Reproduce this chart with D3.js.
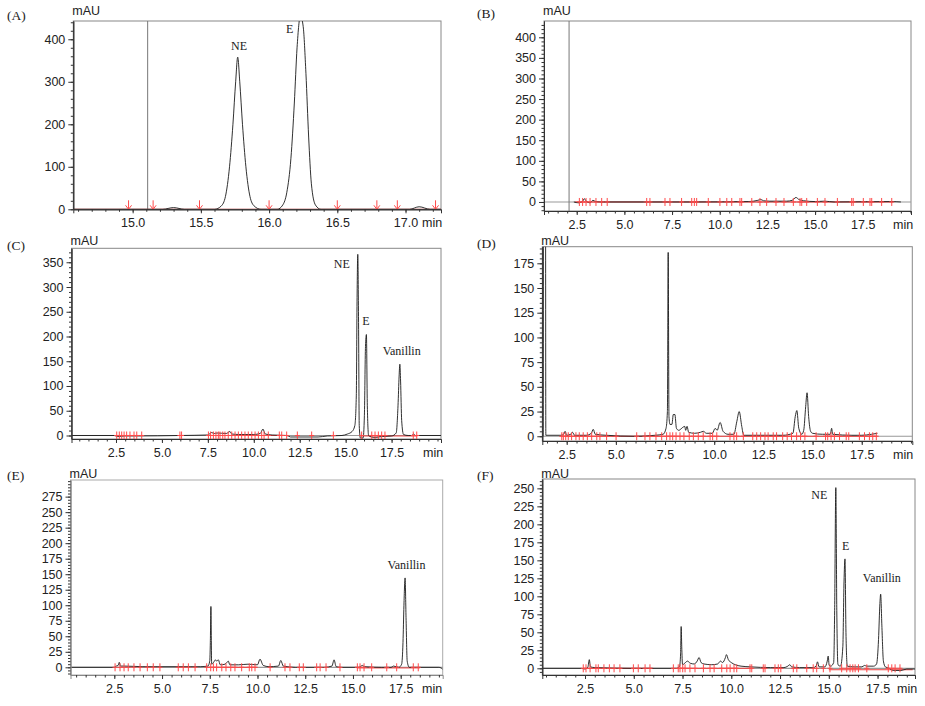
<!DOCTYPE html>
<html>
<head>
<meta charset="utf-8">
<script src="https://cdnjs.cloudflare.com/ajax/libs/d3/7.8.5/d3.min.js"></script>
<style>
  body { margin: 0; background: #fff; }
  svg text { font-family: "Liberation Sans", Arial, sans-serif; fill: #222; }
  svg text.serif { font-family: "Liberation Serif", "Times New Roman", serif; }
</style>
</head>
<body>
<div id="chart"></div>
<script>
// ---- (A) standard NE / E, zoomed window ----
const traceA = [[14.565,0],[15.22,0],[15.3,4],[15.38,0],[15.6,0],[15.65,8],[15.68,30],[15.71,100],[15.735,200],
  [15.755,300],[15.77,358],[15.785,300],[15.805,200],[15.83,100],[15.86,30],[15.89,8],[15.94,0],
  [16.06,0],[16.1,10],[16.13,40],[16.16,120],[16.185,250],[16.205,380],[16.23,455],[16.25,430],
  [16.27,320],[16.29,170],[16.31,60],[16.34,10],[16.38,0],[17.03,0],[17.1,6],[17.18,0],[17.26,0]];
const marksA = [14.97, 15.15, 15.49, 16.0, 16.5, 16.79, 16.94, 17.22];
const xTicksA = [15.0, 15.5, 16.0, 16.5, 17.0];
const yTicksA = [0, 100, 200, 300, 400];
const labelsA = [["NE", 15.78, 375], ["E", 16.15, 414]];

// ---- (B) blank ----
const traceB = [[2.35,0],[2.6,-2],[2.8,1],[2.9,8],[3.0,2],[3.2,-2],[3.35,4],[3.5,1],[3.8,0],[6.0,0],[8.5,0],
  [11.5,1],[12.0,4],[12.15,6],[12.3,3],[12.6,2],[13.5,2],[13.8,4],[14.0,11],[14.15,6],[14.4,3],[15.0,1],
  [15.5,2],[16.0,0],[19.0,1],[19.5,0]];
const marksB = [2.64,2.81,2.99,3.2,3.51,3.81,4.1,6.17,6.34,7.13,7.39,8.0,8.53,8.67,8.79,9.4,10.01,10.37,10.63,
  11.06,11.15,11.68,12.11,12.46,12.95,13.37,13.86,14.21,14.3,14.56,15.12,15.52,16.17,16.92,17.0,17.53,17.88,
  17.97,18.49,19.02];
const yTicksB = [0, 50, 100, 150, 200, 250, 300, 350, 400];

// ---- (C) spiked sample ----
const traceC = [[0.078,0],[2.4,0],[2.6,-2],[3.0,-1],[3.5,-1],[6.0,0],[7.5,1],[7.7,6],[7.85,4],[8.0,5],[8.5,4],
  [8.7,8],[8.8,3],[9.2,2],[10.0,2],[10.35,4],[10.5,13],[10.62,3],[11.0,1],[11.8,0],[12.0,-3],[13.5,-3],
  [14.0,-1],[14.8,0],[15.1,3],[15.35,8],[15.5,20],[15.58,80],[15.62,270],[15.66,366],[15.7,240],[15.74,20],
  [15.8,-5],[15.95,-5],[16.02,40],[16.08,180],[16.13,204],[16.18,60],[16.25,0],[16.4,-3],[16.6,-4],
  [16.8,-3],[17.0,-2],[17.5,-1],[17.75,5],[17.85,60],[17.91,120],[17.95,144],[17.99,110],[18.05,30],
  [18.15,2],[18.4,0],[18.6,0],[18.7,3],[18.8,0],[20.19,0]];
const marksC = [2.54,2.68,2.81,2.94,3.08,3.26,3.48,3.63,3.9,5.98,6.07,7.53,7.65,7.8,7.94,8.07,8.16,8.31,8.43,
  8.61,8.8,8.98,9.16,9.34,9.52,9.7,9.89,10.07,10.25,10.43,10.56,10.79,11.39,11.52,11.79,12.37,13.15,14.33,
  15.87,16.42,16.6,16.78,16.96,17.14,18.68,18.87];
const yTicksC = [0, 50, 100, 150, 200, 250, 300, 350];
const labelsC = [["NE", 14.79, 338], ["E", 16.11, 223], ["Vanillin", 18.05, 163]];

// ---- (D) sample ----
const traceD = [[1.26,0],[1.3,0],[1.33,600],[1.41,600],[1.44,1],[2.2,1],[2.35,2],[2.42,5],[2.5,1],[2.7,2],
  [2.8,4],[2.9,1],[3.5,1],[3.75,3],[3.85,7],[3.95,2],[4.5,1],[6.0,0],[7.0,1],[7.4,2],[7.55,8],[7.62,25],
  [7.66,186],[7.7,20],[7.75,12],[7.85,12],[7.92,22],[8.0,22],[8.08,8],[8.2,6],[8.4,9],[8.5,10],[8.55,6],
  [8.62,10],[8.7,4],[9.0,3],[9.3,4],[9.45,5],[9.6,3],[9.9,3],[10.05,8],[10.15,6],[10.3,14],[10.45,5],
  [10.7,2],[11.0,2],[11.15,15],[11.27,25],[11.4,10],[11.5,1],[12.0,1],[13.5,1],[14.0,3],[14.12,20],
  [14.2,26],[14.3,8],[14.45,2],[14.55,6],[14.65,30],[14.72,44],[14.8,20],[14.9,5],[15.0,3],[15.5,2],
  [15.9,2],[15.97,8],[16.02,2],[17.0,1],[17.5,1],[18.0,2],[18.3,3]];
const marksD = [2.25,2.33,2.45,2.58,2.75,2.97,3.14,3.34,3.55,3.77,4.03,4.19,4.53,5.01,6.06,6.48,6.73,7.04,7.33,
  7.58,7.75,7.89,8.06,8.26,8.46,8.73,8.94,9.19,9.44,9.79,9.92,10.13,10.8,11.0,11.14,11.48,11.96,12.16,12.36,
  12.58,12.74,13.0,13.17,13.48,13.71,13.93,14.19,14.39,14.61,15.18,15.66,15.77,15.94,16.11,16.37,16.71,
  16.84,17.38,17.64,17.89,18.06,18.24];
const yTicksD = [0, 25, 50, 75, 100, 125, 150, 175];

// ---- (E) vanillin-spiked sample ----
const traceE = [[0.206,0],[2.5,0],[2.6,2],[2.7,3],[2.76,8],[2.82,2],[3.0,2],[4.0,1],[7.0,1],[7.4,2],[7.5,10],
  [7.53,40],[7.56,98],[7.6,5],[7.7,8],[7.8,12],[7.86,10],[7.95,12],[8.05,4],[8.3,5],[8.4,8],[8.47,10],
  [8.55,4],[9.0,4],[9.5,5],[10.0,4],[10.13,13],[10.3,3],[10.6,1],[11.1,2],[11.22,11],[11.35,2],[12.0,0],
  [13.5,0],[13.9,2],[14.01,12],[14.12,1],[14.4,0],[15.3,0],[15.5,3],[15.6,1],[16.5,0],[17.0,0],[17.12,2],
  [17.4,0],[17.55,5],[17.62,40],[17.67,100],[17.73,144],[17.78,80],[17.84,10],[17.95,0],[19.5,0],[19.7,-3]];
const marksE = [2.54,2.8,3.01,3.23,3.53,3.85,4.23,4.54,4.89,5.85,6.11,6.38,6.73,7.34,7.55,7.69,7.86,8.13,8.35,
  8.6,8.82,9.17,9.57,9.7,9.87,10.66,11.44,11.7,12.19,12.4,13.1,13.28,13.59,14.32,15.23,15.37,15.58,15.98,
  16.77,17.29,18.16,18.42];
const yTicksE = [0, 25, 50, 75, 100, 125, 150, 175, 200, 225, 250, 275];
const labelsE = [["Vanillin", 17.8, 159]];

// ---- (F) spiked sample ----
const traceF = [[0.31,0],[2.3,0],[2.5,-1],[2.65,2],[2.72,12],[2.78,2],[3.0,1],[5.0,0],[7.2,0],[7.35,3],[7.4,20],
  [7.43,58],[7.46,30],[7.5,5],[7.65,8],[7.75,10],[7.9,7],[8.1,6],[8.25,10],[8.35,15],[8.45,8],[8.6,6],
  [9.0,5],[9.3,6],[9.45,10],[9.55,8],[9.7,15],[9.75,19],[9.85,12],[10.0,8],[10.2,5],[10.5,3],[11.0,2],
  [12.0,1],[12.7,1],[12.9,3],[13.0,5],[13.1,2],[13.5,1],[14.2,1],[14.35,3],[14.42,9],[14.5,2],[14.8,2],
  [14.92,10],[14.97,17],[15.02,4],[15.1,3],[15.25,8],[15.3,80],[15.36,251],[15.41,80],[15.47,5],[15.6,3],
  [15.72,30],[15.78,120],[15.83,152],[15.88,50],[15.95,3],[16.3,2],[16.7,2],[16.83,4],[16.95,3],[17.3,3],
  [17.45,6],[17.55,40],[17.62,90],[17.66,103],[17.72,60],[17.8,10],[17.9,2],[18.1,0],[18.3,-3],[18.7,-3],
  [19.0,-1],[19.42,-1]];
const marksF = [2.41,2.55,2.76,3.06,3.18,3.47,3.75,3.99,4.29,4.98,5.23,5.58,5.83,7.03,7.28,7.37,7.51,7.63,7.88,
  8.14,8.57,8.91,9.12,9.51,9.77,9.94,10.14,10.28,10.96,11.05,11.64,11.73,12.24,12.41,12.54,13.18,13.36,
  13.87,14.2,14.38,14.72,15.06,15.66,15.92,16.09,16.23,16.35,16.52,16.95,18.05,18.23,18.4,18.65];
const yTicksF = [0, 25, 50, 75, 100, 125, 150, 175, 200, 225, 250];
const labelsF = [["NE", 14.51, 235], ["E", 15.86, 164], ["Vanillin", 17.72, 120]];

const xTicksWide = [2.5, 5.0, 7.5, 10.0, 12.5, 15.0, 17.5];

// layout of the six panels (pixels) and their axis windows
const panels = [
  {tag: "(A)", trace: traceA, marks: marksA, arrows: true, xt: xTicksA, yt: yTicksA, labels: labelsA,
   left: 73.3, right: 441, top: 21, bottom: 209.3, xd: [14.565, 17.26], yd: [0, 443], xMinor: 0.1, yMinor: 20,
   cursor: 15.11, zero: false, red: [[14.565, 17.26, 0]], tagX: 7, tagY: 20, mauY: 15, minX: 422},
  {tag: "(B)", trace: traceB, marks: marksB, xt: xTicksWide, yt: yTicksB, labels: [],
   left: 544, right: 911, top: 21, bottom: 211, xd: [0.785, 20.03], yd: [-21.9, 439.6], xMinor: 0.5, yMinor: 10,
   cursor: 2.1, zero: true, red: [[2.4, 19.1, 0]], tagX: 477, tagY: 18, mauY: 15, minX: 893},
  {tag: "(C)", trace: traceC, marks: marksC, xt: xTicksWide, yt: yTicksC, labels: labelsC,
   left: 71.5, right: 441, top: 248.3, bottom: 439, xd: [0.078, 20.19], yd: [-7.1, 378.2], xMinor: 0.5, yMinor: 10,
   zero: true, red: [[2.5, 3.9, 0], [7.5, 11.8, 0], [15.8, 18.9, -1]], tagX: 7, tagY: 250, mauY: 245, minX: 423},
  {tag: "(D)", trace: traceD, marks: marksD, xt: xTicksWide, yt: yTicksD, labels: [],
   left: 542.3, right: 912.3, top: 246.7, bottom: 441, xd: [1.26, 20.07], yd: [-4.8, 191.8], xMinor: 0.5, yMinor: 5,
   zero: true, red: [[2.2, 18.3, 0]], tagX: 477, tagY: 248, mauY: 245, minX: 893},
  {tag: "(E)", trace: traceE, marks: marksE, xt: xTicksWide, yt: yTicksE, labels: labelsE,
   left: 70.5, right: 442.7, top: 480, bottom: 675, xd: [0.206, 19.7], yd: [-12.4, 301.8], xMinor: 0.5, yMinor: 5,
   zero: true, red: [[7.4, 10.0, 0], [15.2, 18.5, -1]], tagX: 7, tagY: 480, mauY: 478, minX: 422, light: true},
  {tag: "(F)", trace: traceF, marks: marksF, xt: xTicksWide, yt: yTicksF, labels: labelsF,
   left: 542.3, right: 915, top: 479, bottom: 675, xd: [0.31, 19.42], yd: [-9.3, 263], xMinor: 0.5, yMinor: 5,
   zero: true, red: [[2.4, 6.0, 0], [7.2, 11.0, 0], [15.0, 19.3, -2]], tagX: 477, tagY: 480, mauY: 478, minX: 897}
];

const svg = d3.select('#chart').append('svg')
  .attr('width', 925).attr('height', 706)
  .style('display', 'block');

panels.forEach((p, i) => {
  const x = d3.scaleLinear().domain(p.xd).range([p.left, p.right]);
  const y = d3.scaleLinear().domain(p.yd).range([p.bottom, p.top]);
  const g = svg.append('g');

  const clipId = 'clip' + i;
  g.append('clipPath').attr('id', clipId).append('rect')
    .attr('x', p.left).attr('y', p.top)
    .attr('width', p.right - p.left).attr('height', p.bottom - p.top);

  // frame (top/right grey)
  g.append('rect')
    .attr('x', p.left).attr('y', p.top)
    .attr('width', p.right - p.left).attr('height', p.bottom - p.top)
    .attr('fill', 'none').attr('stroke', p.light ? '#aaa' : '#888').attr('stroke-width', 1);

  // zero line
  if (p.zero) {
    g.append('line')
      .attr('x1', p.left).attr('x2', p.right)
      .attr('y1', y(0)).attr('y2', y(0))
      .attr('stroke', '#999').attr('stroke-width', 1.2);
  }
  // cursor line
  if (p.cursor !== undefined) {
    g.append('line')
      .attr('x1', x(p.cursor)).attr('x2', x(p.cursor))
      .attr('y1', p.top).attr('y2', p.bottom)
      .attr('stroke', '#777').attr('stroke-width', 1);
  }

  const plot = g.append('g').attr('clip-path', `url(#${clipId})`);

  // red integration baselines
  plot.selectAll('line.red').data(p.red).join('line')
    .attr('class', 'red')
    .attr('x1', d => x(d[0])).attr('x2', d => x(d[1]))
    .attr('y1', d => y(d[2])).attr('y2', d => y(d[2]))
    .attr('stroke', '#f04040').attr('stroke-width', 1);

  // chromatogram trace
  const line = d3.line().x(d => x(d[0])).y(d => y(d[1])).curve(d3.curveMonotoneX);
  plot.append('path').datum(p.trace)
    .attr('d', line)
    .attr('fill', 'none').attr('stroke', '#1a1a1a').attr('stroke-width', 0.9)
    .attr('stroke-linejoin', 'round');

  // integration event marks
  const mk = plot.selectAll('g.mark').data(p.marks).join('g')
    .attr('class', 'mark')
    .attr('transform', d => `translate(${x(d)},${y(0)})`)
    .attr('stroke', '#ff4a4a').attr('stroke-width', 1);
  if (p.arrows) {
    mk.append('line').attr('x1', 0).attr('x2', 0).attr('y1', -9).attr('y2', 0);
    mk.append('path').attr('d', 'M-3,-4L0,0L3,-4').attr('fill', 'none');
  } else {
    mk.append('line').attr('x1', 0).attr('x2', 0).attr('y1', -4).attr('y2', 4);
    mk.append('line').attr('x1', -2.5).attr('x2', 2.5).attr('y1', 0).attr('y2', 0);
  }

  // axes
  const xAxis = g.append('g').attr('transform', `translate(0,${p.bottom})`)
    .call(d3.axisBottom(x).tickValues(p.xt).tickFormat(d3.format('.1f')).tickSize(4).tickPadding(5));
  g.append('g').attr('transform', `translate(0,${p.bottom})`)
    .call(d3.axisBottom(x).tickValues(d3.range(Math.ceil(p.xd[0] / p.xMinor) * p.xMinor, p.xd[1], p.xMinor))
      .tickFormat('').tickSize(2.5).tickSizeOuter(0));
  const yAxis = g.append('g').attr('transform', `translate(${p.left},0)`)
    .call(d3.axisLeft(y).tickValues(p.yt).tickSize(5).tickPadding(3).tickSizeOuter(0));
  g.append('g').attr('transform', `translate(${p.left},0)`)
    .call(d3.axisLeft(y).tickValues(d3.range(Math.ceil(p.yd[0] / p.yMinor) * p.yMinor, p.yd[1], p.yMinor))
      .tickFormat('').tickSize(2.5).tickSizeOuter(0));
  g.selectAll('.domain').attr('stroke', p.light ? '#888' : '#333');
  g.selectAll('.tick line').attr('stroke', '#333');
  g.selectAll('.tick text').attr('font-size', 12.5).attr('fill', '#222')
    .style('font-family', '"Liberation Sans", Arial, sans-serif');

  // texts
  g.append('text').attr('class', 'serif')
    .attr('x', p.tagX).attr('y', p.tagY).attr('font-size', 13.5).text(p.tag);
  g.append('text').attr('x', p.left - 1).attr('y', p.mauY).attr('font-size', 12.5).text('mAU');
  g.append('text').attr('x', p.minX).attr('y', p.bottom + 5 + 4 + 8.9)
    .attr('font-size', 12.5).text('min');

  g.selectAll('text.peak').data(p.labels).join('text')
    .attr('class', 'serif peak')
    .attr('x', d => x(d[1])).attr('y', d => y(d[2]))
    .attr('text-anchor', 'middle').attr('font-size', 12)
    .text(d => d[0]);
});
</script>
</body>
</html>
